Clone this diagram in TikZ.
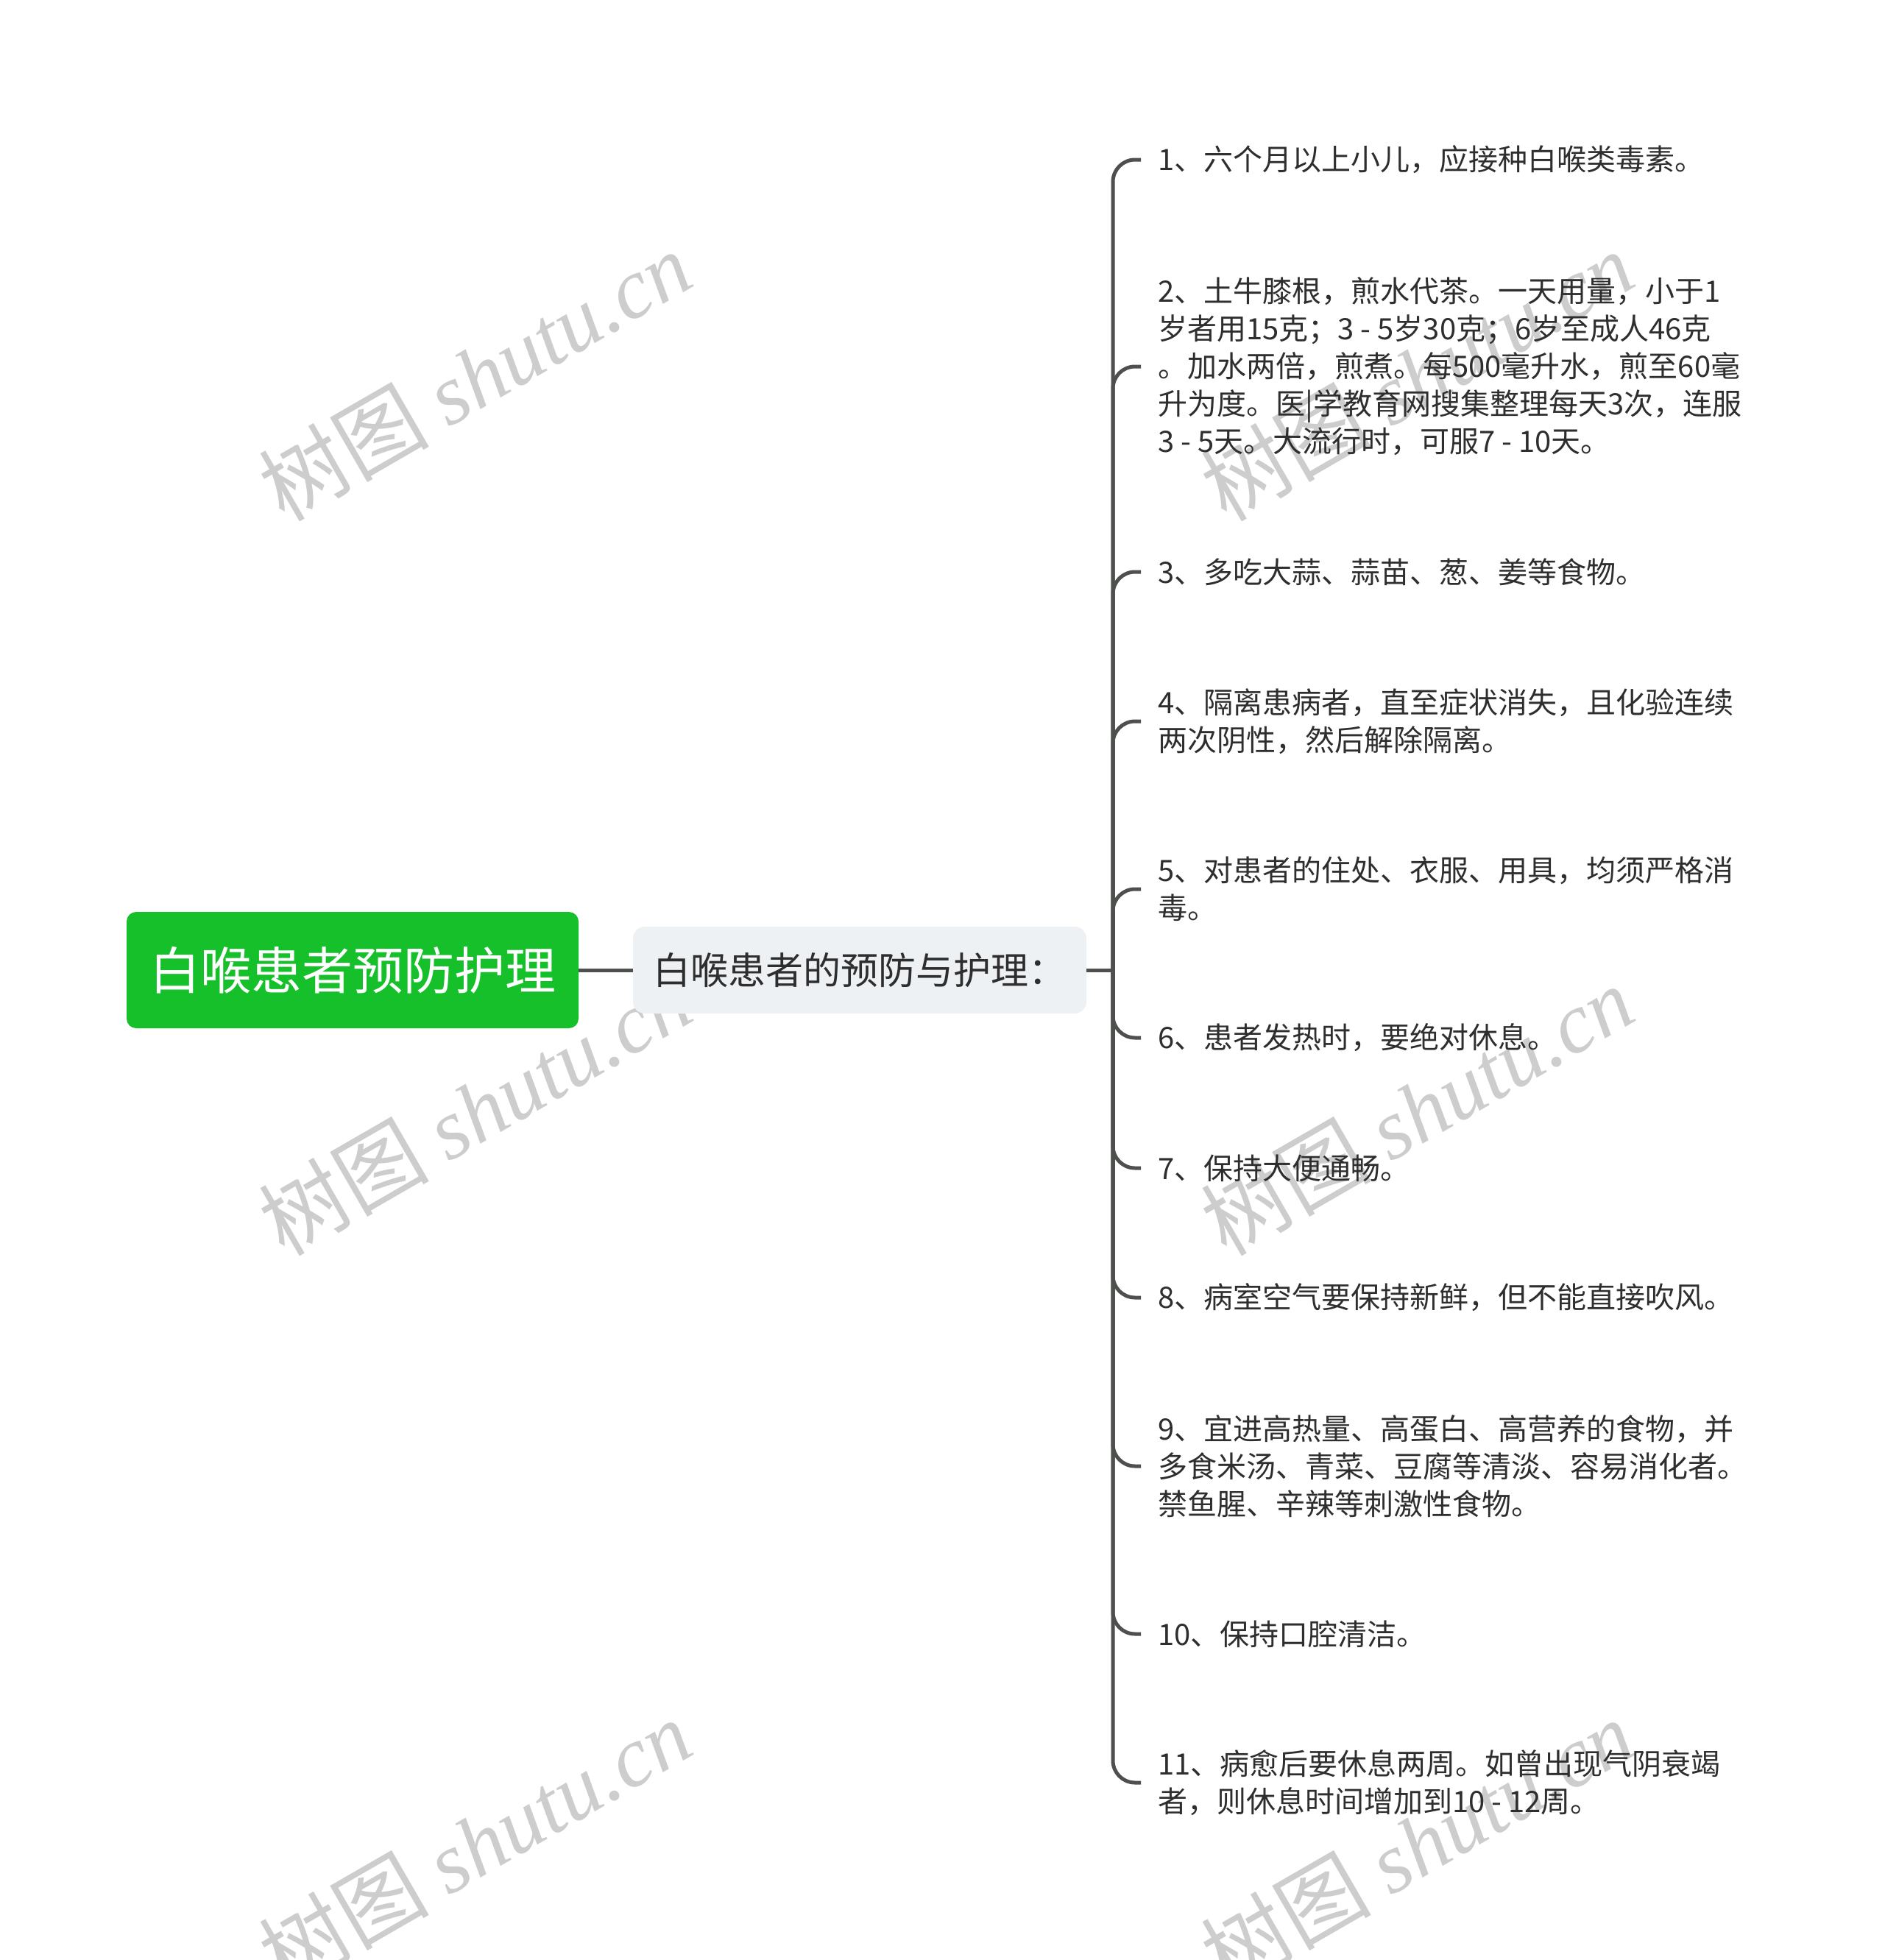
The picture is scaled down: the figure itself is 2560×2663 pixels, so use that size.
\documentclass[tikz,border=0pt]{standalone}
\usepackage{fontspec}
\newfontfamily\cjk{Noto Sans CJK SC}
\newfontfamily\wmlat{Liberation Serif}
\definecolor{rootg}{HTML}{16C02B}
\definecolor{subg}{HTML}{EEF1F4}
\definecolor{linec}{HTML}{4E504E}
\definecolor{txt}{HTML}{2E2E2E}
\definecolor{wmc}{HTML}{CDCDCD}
\begin{document}
\begin{tikzpicture}[x=1pt,y=-1pt,
  conn/.style={draw=linec, line width=5pt},
  branch/.style={conn, rounded corners=30pt},
  rootbox/.style={fill=rootg, rounded corners=13pt, text=white,
    font=\cjk\fontsize{69pt}{80pt}\selectfont,
    minimum width=614pt, minimum height=158pt, inner sep=0pt},
  subbox/.style={fill=subg, rounded corners=16pt, text=txt,
    font=\cjk\fontsize{51pt}{60pt}\selectfont,
    minimum width=616pt, minimum height=118pt, inner sep=0pt},
  leaf/.style={anchor=west, align=left, text=txt,
    font=\cjk\fontsize{40pt}{51pt}\selectfont,
    inner xsep=23pt, inner ysep=0pt},
  wm/.style={text=wmc, rotate=30, inner sep=0pt}]
\fill[white] (0,0) rectangle (2560,2663);
\useasboundingbox (0,0) rectangle (2560,2663);

\foreach \px/\py [count=\i] in {645/510,645/1508,645/2505,1925/510,1925/1508,1925/2505}
  \node[wm] (wm\i) at (\px,\py) {\cjk\fontsize{116pt}{120pt}\selectfont 树图 {\wmlat\itshape shutu.cn}};

\node[rootbox] (root) at (479,1318) {白喉患者预防护理};
\node[subbox] (sub) at (1168,1318) {白喉患者的预防与护理：};
\coordinate (jn) at (1512,1318);

\node[leaf] (c1) at (1550,217) {1、六个月以上小儿，应接种白喉类毒素。};
\node[leaf] (c2) at (1550,498) {2、土牛膝根，煎水代茶。一天用量，小于1\\岁者用15克；3 - 5岁30克；6岁至成人46克\\。加水两倍，煎煮。每500毫升水，煎至60毫\\升为度。医|学教育网搜集整理每天3次，连服\\3 - 5天。大流行时，可服7 - 10天。};
\node[leaf] (c3) at (1550,777) {3、多吃大蒜、蒜苗、葱、姜等食物。};
\node[leaf] (c4) at (1550,980) {4、隔离患病者，直至症状消失，且化验连续\\两次阴性，然后解除隔离。};
\node[leaf] (c5) at (1550,1208) {5、对患者的住处、衣服、用具，均须严格消\\毒。};
\node[leaf] (c6) at (1550,1410) {6、患者发热时，要绝对休息。};
\node[leaf] (c7) at (1550,1587) {7、保持大便通畅。};
\node[leaf] (c8) at (1550,1763) {8、病室空气要保持新鲜，但不能直接吹风。};
\node[leaf] (c9) at (1550,1992) {9、宜进高热量、高蛋白、高营养的食物，并\\多食米汤、青菜、豆腐等清淡、容易消化者。\\禁鱼腥、辛辣等刺激性食物。};
\node[leaf] (c10) at (1550,2220) {10、保持口腔清洁。};
\node[leaf] (c11) at (1550,2422) {11、病愈后要休息两周。如曾出现气阴衰竭\\者，则休息时间增加到10 - 12周。};

\draw[conn] (root.east) -- (sub.west);
\draw[conn] (sub.east) -- (jn);
\foreach \c in {c1,c2,c3,c4,c5,c6,c7,c8,c9,c10,c11}
  \draw[branch] (jn) |- (\c.west);
\end{tikzpicture}
\end{document}
